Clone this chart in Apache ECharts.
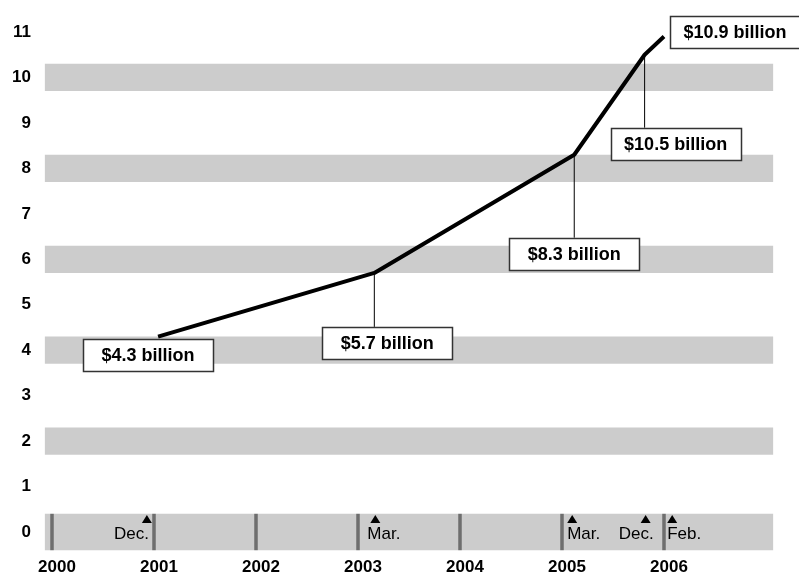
<!DOCTYPE html>
<html><head><meta charset="utf-8">
<script src="https://cdn.jsdelivr.net/npm/echarts@6/dist/echarts.min.js"></script>
<style>html,body{margin:0;padding:0;background:#fff}#c{width:799px;height:578px}</style>
</head><body><div id="c"></div>
<script>
// ---- data ----
const yearTicks = [2000, 2001, 2002, 2003, 2004, 2005, 2006];
const valueTicks = [0, 1, 2, 3, 4, 5, 6, 7, 8, 9, 10, 11];
const bandValues = [0, 2, 4, 6, 8, 10];
const lineX = [2001.04, 2003.16, 2005.12, 2005.81, 2006.0];
const lineY = [4.3, 5.7, 8.3, 10.5, 10.9];
const calloutLabels = ['$4.3 billion', '$5.7 billion', '$8.3 billion', '$10.5 billion', '$10.9 billion'];
const markerX = [2000.93, 2003.17, 2005.10, 2005.82, 2006.08];
const markerLabels = ['Dec.', 'Mar.', 'Mar.', 'Dec.', 'Feb.'];

// ---- style / layout ----
const FONT = '"Liberation Sans", Arial, Helvetica, sans-serif';
const calloutLayout = [
  {dx: -10, top: 2}, {dx: 13, top: 54}, {dx: 0, top: 83}, {dx: 31, top: 73}, {dx: 71, top: -21}
];
const markerLayout = [
  {align: 'right', dx: 2}, {align: 'left', dx: -8}, {align: 'left', dx: -5},
  {align: 'right', dx: 8}, {align: 'left', dx: -5}
];
const BAND_X0 = 1999.93, BAND_X1 = 2007.07;

const chart = echarts.init(document.getElementById('c'), null, {renderer: 'canvas'});
chart.setOption({
  backgroundColor: '#ffffff',
  animation: false,
  grid: {left: 52, right: 33, top: 32, bottom: 46},
  xAxis: {
    type: 'value', min: 2000, max: 2007, interval: 1,
    axisLine: {show: false}, axisTick: {show: false}, splitLine: {show: false},
    axisLabel: {
      margin: 27, padding: [0, 0, 0, 10],
      formatter: v => (yearTicks.indexOf(v) >= 0 ? String(v) : ''),
      color: '#000', fontWeight: 'bold', fontSize: 17, fontFamily: FONT
    }
  },
  yAxis: {
    type: 'value', min: 0, max: 11, interval: 1,
    axisLine: {show: false}, axisTick: {show: false}, splitLine: {show: false},
    axisLabel: {
      margin: 21,
      formatter: v => (valueTicks.indexOf(v) >= 0 ? String(v) : ''),
      color: '#000', fontWeight: 'bold', fontSize: 17, fontFamily: FONT
    }
  },
  series: [
    { // gray bands
      type: 'custom', z: 1, clip: false, silent: true,
      data: bandValues.map(v => [v]),
      renderItem: (params, api) => {
        const v = api.value(0);
        const h = v === 0 ? 0.4 : 0.3;
        const a = api.coord([BAND_X0, v + h]);
        const b = api.coord([BAND_X1, v - h]);
        return {type: 'rect', shape: {x: a[0], y: a[1], width: b[0] - a[0], height: b[1] - a[1]},
                style: {fill: '#cccccc'}};
      }
    },
    { // year lines in the bottom band
      type: 'custom', z: 2, clip: false, silent: true,
      data: yearTicks.map(y => [y]),
      renderItem: (params, api) => {
        const a = api.coord([api.value(0), 0.4]);
        const b = api.coord([api.value(0), -0.4]);
        return {type: 'line', shape: {x1: a[0], y1: a[1], x2: b[0], y2: b[1]},
                style: {stroke: '#6e6e6e', lineWidth: 3.5}};
      }
    },
    { // month markers
      type: 'custom', z: 3, clip: false, silent: true,
      data: markerX.map((x, i) => [x, i]),
      renderItem: (params, api) => {
        const i = api.value(1);
        const p = api.coord([api.value(0), 0]);
        const L = markerLayout[i];
        return {type: 'group', children: [
          {type: 'polygon', shape: {points: [[p[0], p[1] - 17], [p[0] - 5, p[1] - 9], [p[0] + 5, p[1] - 9]]},
           style: {fill: '#000'}},
          {type: 'text', x: p[0] + L.dx, y: p[1] + 2,
           style: {text: markerLabels[i], fill: '#000', font: '17px ' + FONT, align: L.align, verticalAlign: 'middle'}}
        ]};
      }
    },
    { // main line
      type: 'line', z: 4, symbol: 'none',
      data: lineX.map((x, i) => [x, lineY[i]]),
      lineStyle: {color: '#000', width: 4, join: 'round'}
    },
    { // callouts
      type: 'custom', z: 5, clip: false, silent: true,
      data: lineX.map((x, i) => [x, lineY[i], i]),
      renderItem: (params, api) => {
        const i = api.value(2);
        const p = api.coord([api.value(0), api.value(1)]);
        const L = calloutLayout[i];
        const w = 130, h = 32;
        const cx = p[0] + L.dx;
        const top = p[1] + L.top;
        const children = [];
        if (L.top > 5) {
          children.push({type: 'line', shape: {x1: p[0], y1: p[1], x2: p[0], y2: top},
                         style: {stroke: '#000', lineWidth: 1}});
        }
        children.push({type: 'rect', shape: {x: Math.round(cx - w / 2) + 0.5, y: Math.round(top) + 0.5, width: w, height: h},
                       style: {fill: '#fff', stroke: '#333', lineWidth: 1.5}});
        children.push({type: 'text', x: cx, y: top + h / 2 + 1,
                       style: {text: calloutLabels[i], fill: '#000', font: 'bold 18px ' + FONT,
                               align: 'center', verticalAlign: 'middle'}});
        return {type: 'group', children: children};
      }
    }
  ]
});
</script></body></html>
